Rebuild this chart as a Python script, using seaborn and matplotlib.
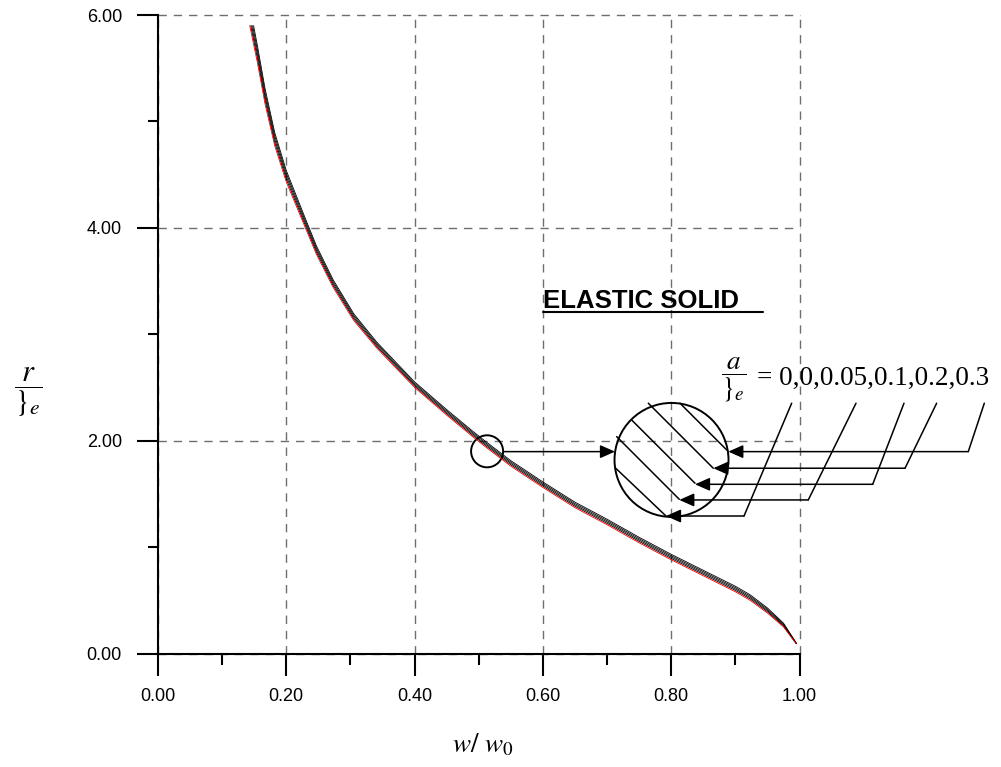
import matplotlib
matplotlib.use("Agg")
import matplotlib.pyplot as plt
from matplotlib.lines import Line2D
from matplotlib.patches import Ellipse
from matplotlib.ticker import FormatStrFormatter, MultipleLocator
import pandas as pd
import seaborn as sns

W, H = 1001, 767

# values, one list per a/lambda_e curve
alpha_labels = ["0", "0.05", "0.1", "0.2", "0.3"]
w_start = [0.1430, 0.1445, 0.1460, 0.1475, 0.1490]
w_tail = [0.155, 0.167, 0.182, 0.200, 0.229, 0.247, 0.273, 0.305, 0.341,
          0.400, 0.450, 0.490, 0.513, 0.550, 0.600, 0.650, 0.700, 0.750,
          0.800, 0.850, 0.900, 0.923, 0.950, 0.975, 0.995]
r_a000 = [5.900, 5.550, 5.160, 4.770, 4.430, 4.010, 3.750, 3.440, 3.130,
          2.870, 2.500, 2.240, 2.040, 1.930, 1.760, 1.560, 1.370, 1.210,
          1.040, 0.880, 0.730, 0.580, 0.500, 0.380, 0.250, 0.090]
r_a005 = [5.900, 5.590, 5.196, 4.801, 4.457, 4.032, 3.770, 3.458, 3.146,
          2.884, 2.513, 2.253, 2.053, 1.943, 1.773, 1.573, 1.383, 1.223,
          1.053, 0.893, 0.743, 0.593, 0.513, 0.392, 0.259, 0.092]
r_a010 = [5.900, 5.630, 5.232, 4.832, 4.484, 4.054, 3.790, 3.476, 3.162,
          2.898, 2.526, 2.266, 2.066, 1.956, 1.786, 1.586, 1.396, 1.236,
          1.066, 0.906, 0.756, 0.606, 0.526, 0.404, 0.268, 0.094]
r_a020 = [5.900, 5.670, 5.268, 4.863, 4.511, 4.076, 3.810, 3.494, 3.178,
          2.912, 2.539, 2.279, 2.079, 1.969, 1.799, 1.599, 1.409, 1.249,
          1.079, 0.919, 0.769, 0.619, 0.539, 0.416, 0.277, 0.096]
r_a030 = [5.900, 5.710, 5.304, 4.894, 4.538, 4.098, 3.830, 3.512, 3.194,
          2.926, 2.552, 2.292, 2.092, 1.982, 1.812, 1.612, 1.422, 1.262,
          1.092, 0.932, 0.782, 0.632, 0.552, 0.428, 0.286, 0.098]

x_ticks = [0.0, 0.2, 0.4, 0.6, 0.8, 1.0]
y_ticks = [0.0, 2.0, 4.0, 6.0]

series = [r_a000, r_a005, r_a010, r_a020, r_a030]
frames = []
for label, w0, r in zip(alpha_labels, w_start, series):
    frames.append(pd.DataFrame({"w": [w0] + w_tail, "r": r, "alpha": label}))
df = pd.concat(frames, ignore_index=True)

sns.set_style("white")
plt.rcParams["font.family"] = ["Liberation Sans", "DejaVu Sans"]
plt.rcParams["mathtext.fontset"] = "stix"
plt.rcParams["text.color"] = "black"
plt.rcParams["xtick.color"] = "black"
plt.rcParams["ytick.color"] = "black"
plt.rcParams["axes.edgecolor"] = "black"


def fx(px):
    return px / W


def fy(py):
    return 1 - py / H


fig = plt.figure(figsize=(W / 100, H / 100), dpi=100)
ax = fig.add_axes([fx(158), fy(653.5), (799.5 - 158) / W, (653.5 - 15) / H])

palette = {lab: "black" for lab in alpha_labels}
palette["0"] = "red"
sns.lineplot(data=df, x="w", y="r", hue="alpha",
             hue_order=["0.3", "0.2", "0.1", "0.05", "0"],
             palette=palette, estimator=None, sort=False, legend=False,
             linewidth=0.6, ax=ax)

ax.set_xlim(0, 1)
ax.set_ylim(0, 6)
ax.set_xticks(x_ticks)
ax.set_yticks(y_ticks)
ax.xaxis.set_minor_locator(MultipleLocator(0.1))
ax.yaxis.set_minor_locator(MultipleLocator(1.0))
ax.xaxis.set_major_formatter(FormatStrFormatter("%.2f"))
ax.yaxis.set_major_formatter(FormatStrFormatter("%.2f"))
ax.set_xlabel("")
ax.set_ylabel("")

for side in ["top", "right"]:
    ax.spines[side].set_visible(False)
for side in ["left", "bottom"]:
    ax.spines[side].set_linewidth(1.5)
    ax.spines[side].set_color("black")

ax.tick_params(which="both", bottom=True, left=True, top=False, right=False)
ax.tick_params(axis="x", which="major", direction="out", length=16, width=1.5,
               pad=9, labelsize=13, color="black", labelcolor="black")
ax.tick_params(axis="x", which="minor", direction="out", length=8, width=1.5,
               color="black")
ax.tick_params(axis="y", which="major", direction="out", length=15, width=1.5,
               pad=11, labelsize=13, color="black", labelcolor="black")
ax.tick_params(axis="y", which="minor", direction="out", length=7.5, width=1.5,
               color="black")

ax.set_axisbelow(True)
ax.grid(True, which="major", color="#6e6e6e", linestyle=(0, (6, 5)), linewidth=1.0)
for gl in ax.get_xgridlines() + ax.get_ygridlines():
    gl.set_clip_on(False)

# zoom circles and the arrow between them
ax.add_patch(Ellipse((0.513, 1.90), 0.0499, 0.301, fill=False, lw=1.4,
                     color="black", clip_on=False))
ax.add_patch(Ellipse((0.8005, 1.819), 0.1777, 1.071, fill=False, lw=1.4,
                     color="black", clip_on=False))

arrow_style = dict(arrowstyle="-|>,head_length=9,head_width=4", mutation_scale=1,
                   color="black", lw=1.1, shrinkA=0, shrinkB=0)
ax.annotate("", xy=(0.7124, 1.897), xytext=(0.5394, 1.897),
            arrowprops=arrow_style, annotation_clip=False)

# magnified curve segments inside the big circle
hatch_lines = [
    ((0.8137, 2.352), (0.8865, 1.913)),
    ((0.7643, 2.352), (0.8656, 1.741)),
    ((0.7384, 2.194), (0.8371, 1.600)),
    ((0.7150, 2.038), (0.8126, 1.449)),
    ((0.7135, 1.741), (0.7919, 1.292)),
]
for (x0, y0), (x1, y1) in hatch_lines:
    ax.plot([x0, x1], [y0, y1], color="black", lw=1.1, clip_on=False)

# leader lines from the alpha values down to each segment
leaders = [
    ((0.8890, 1.897), (1.2631, 1.897), (1.2881, 2.352)),
    ((0.8656, 1.741), (1.1645, 1.741), (1.2138, 2.352)),
    ((0.8371, 1.590), (1.1141, 1.590), (1.1629, 2.352)),
    ((0.8126, 1.443), (1.0137, 1.443), (1.0881, 2.352)),
    ((0.7919, 1.292), (0.9135, 1.292), (0.9878, 2.352)),
]
for tip, corner, top in leaders:
    ax.plot([corner[0], top[0]], [corner[1], top[1]], color="black", lw=1.1,
            clip_on=False)
    ax.annotate("", xy=tip, xytext=corner, arrowprops=arrow_style,
                annotation_clip=False)

# texts
fig.text(fx(27.7), fy(392), r"$\dfrac{r}{\}_e}$", fontsize=22, ha="center", va="center")
fig.text(fx(483), fy(745), r"$w/\ w_0$", fontsize=19.5, ha="center", va="center")
fig.text(fx(734), fy(380), r"$\dfrac{a}{\}_e}$", fontsize=19.5, ha="center", va="center")
fig.text(fx(757), fy(385), "= 0,0,0.05,0.1,0.2,0.3", family="Liberation Serif",
         fontsize=19.5, ha="left", va="baseline")
fig.text(fx(543), fy(308.3), "ELASTIC SOLID", fontsize=18.5, weight="bold",
         ha="left", va="baseline")
fig.add_artist(Line2D([fx(543), fx(763)], [fy(311.5), fy(311.5)], lw=1.5, color="black"))

fig.savefig("out.png", dpi=100)
